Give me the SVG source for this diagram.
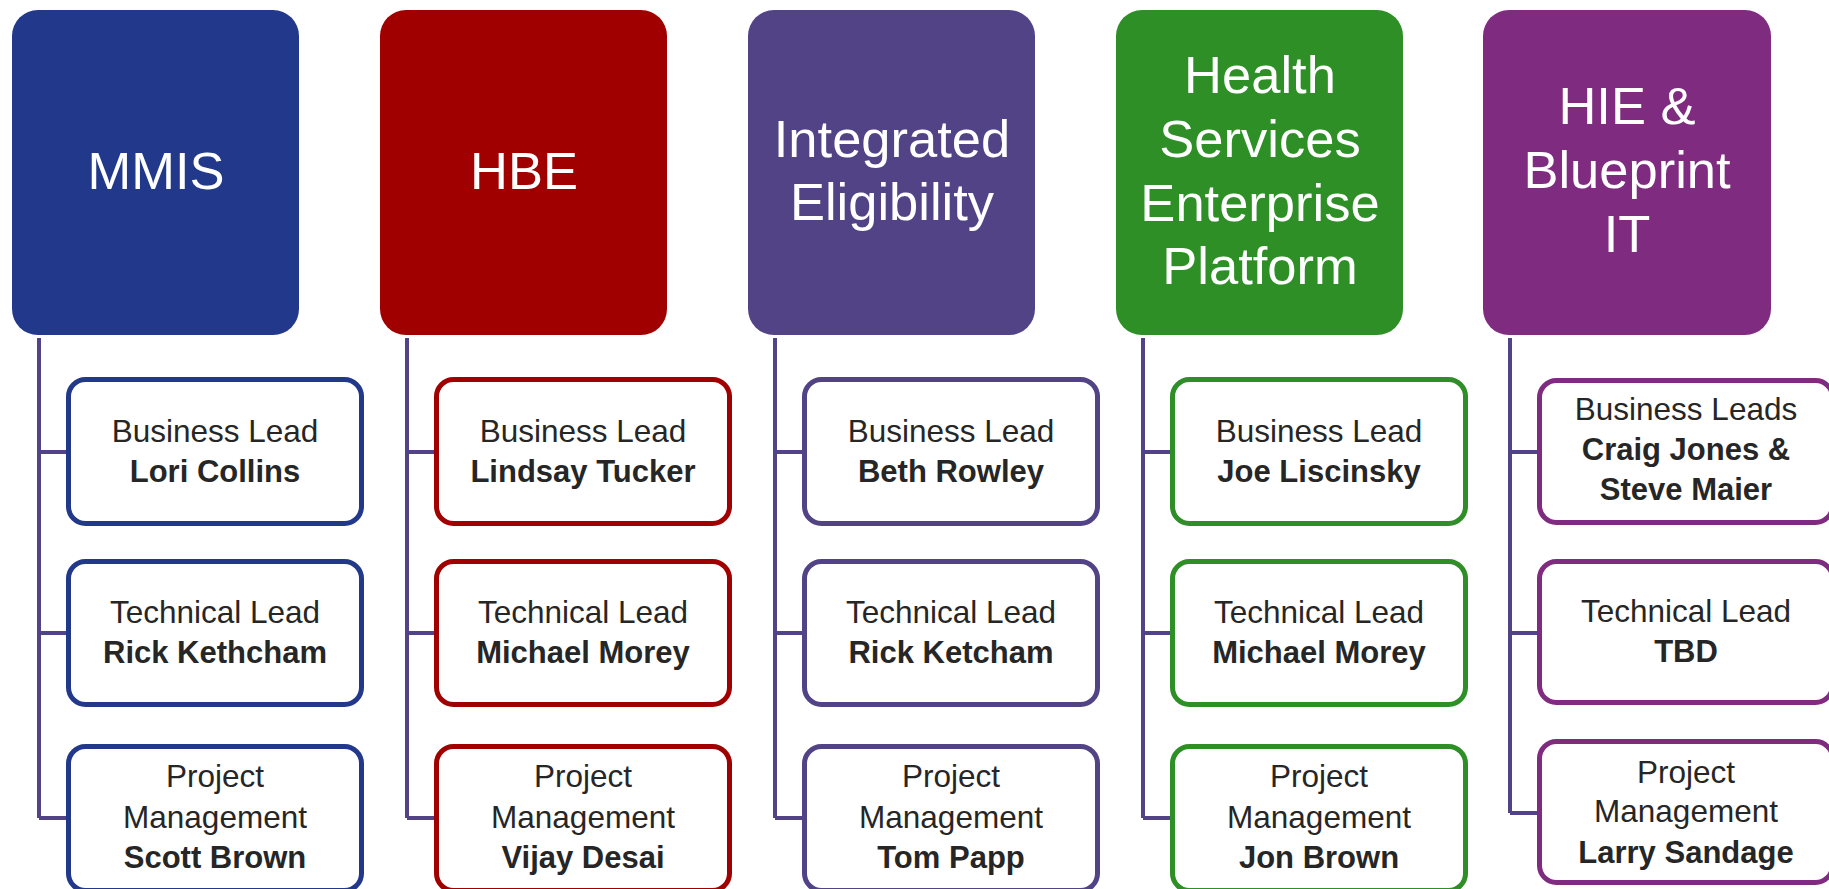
<svg xmlns="http://www.w3.org/2000/svg" width="1829" height="889" viewBox="0 0 1829 889">
<style>
.hdr{stroke:none}
.t{font-family:"Liberation Sans",Arial,sans-serif;fill:#262626;text-anchor:middle;font-size:31.5px}
.b{font-weight:bold;font-size:31px}
.h{font-family:"Liberation Sans",Arial,sans-serif;fill:#ffffff;text-anchor:middle;font-size:52.5px}
.box{fill:#ffffff;stroke-width:5}
.c{stroke:#524389;stroke-width:4;fill:none;stroke-linejoin:miter}
</style>
<rect width="1829" height="889" fill="#ffffff"/>
<g id="connectors">
<path class="c" d="M39 338V818M39 452H68M39 633H68M39 818H68"/>
<path class="c" d="M407 338V818M407 452H436M407 633H436M407 818H436"/>
<path class="c" d="M775 338V818M775 452H804M775 633H804M775 818H804"/>
<path class="c" d="M1143 338V818M1143 452H1172M1143 633H1172M1143 818H1172"/>
<path class="c" d="M1510 338V813M1510 452H1539M1510 633H1539M1510 813H1539"/>
</g>
<g id="mmis">
<rect class="hdr" x="12" y="10" width="287" height="325" rx="26" fill="#22398B"/>
<text class="h" x="156" y="189">MMIS</text>
</g>
<g id="mmis-business"><rect class="box" x="68.5" y="379.5" width="293" height="144" rx="17" stroke="#22398B"/>
<text class="t" x="215" y="442">Business Lead</text><text class="t b" x="215" y="482">Lori Collins</text></g>
<g id="mmis-technical"><rect class="box" x="68.5" y="561.5" width="293" height="143" rx="17" stroke="#22398B"/>
<text class="t" x="215" y="623">Technical Lead</text><text class="t b" x="215" y="663">Rick Kethcham</text></g>
<g id="mmis-project"><rect class="box" x="68.5" y="746.5" width="293" height="144" rx="17" stroke="#22398B"/>
<text class="t" x="215" y="787">Project</text><text class="t" x="215" y="828">Management</text><text class="t b" x="215" y="868">Scott Brown</text></g>

<g id="hbe">
<rect class="hdr" x="380" y="10" width="287" height="325" rx="26" fill="#A10000"/>
<text class="h" x="524" y="189">HBE</text>
</g>
<g id="hbe-business"><rect class="box" x="436.5" y="379.5" width="293" height="144" rx="17" stroke="#A10000"/>
<text class="t" x="583" y="442">Business Lead</text><text class="t b" x="583" y="482">Lindsay Tucker</text></g>
<g id="hbe-technical"><rect class="box" x="436.5" y="561.5" width="293" height="143" rx="17" stroke="#A10000"/>
<text class="t" x="583" y="623">Technical Lead</text><text class="t b" x="583" y="663">Michael Morey</text></g>
<g id="hbe-project"><rect class="box" x="436.5" y="746.5" width="293" height="144" rx="17" stroke="#A10000"/>
<text class="t" x="583" y="787">Project</text><text class="t" x="583" y="828">Management</text><text class="t b" x="583" y="868">Vijay Desai</text></g>

<g id="ie">
<rect class="hdr" x="748" y="10" width="287" height="325" rx="26" fill="#524286"/>
<text class="h" x="892" y="157">Integrated</text>
<text class="h" x="892" y="220">Eligibility</text>
</g>
<g id="ie-business"><rect class="box" x="804.5" y="379.5" width="293" height="144" rx="17" stroke="#524286"/>
<text class="t" x="951" y="442">Business Lead</text><text class="t b" x="951" y="482">Beth Rowley</text></g>
<g id="ie-technical"><rect class="box" x="804.5" y="561.5" width="293" height="143" rx="17" stroke="#524286"/>
<text class="t" x="951" y="623">Technical Lead</text><text class="t b" x="951" y="663">Rick Ketcham</text></g>
<g id="ie-project"><rect class="box" x="804.5" y="746.5" width="293" height="144" rx="17" stroke="#524286"/>
<text class="t" x="951" y="787">Project</text><text class="t" x="951" y="828">Management</text><text class="t b" x="951" y="868">Tom Papp</text></g>

<g id="hsep">
<rect class="hdr" x="1116" y="10" width="287" height="325" rx="26" fill="#2E8F26"/>
<text class="h" x="1260" y="93">Health</text>
<text class="h" x="1260" y="157">Services</text>
<text class="h" x="1260" y="221">Enterprise</text>
<text class="h" x="1260" y="284">Platform</text>
</g>
<g id="hsep-business"><rect class="box" x="1172.5" y="379.5" width="293" height="144" rx="17" stroke="#2E8F26"/>
<text class="t" x="1319" y="442">Business Lead</text><text class="t b" x="1319" y="482">Joe Liscinsky</text></g>
<g id="hsep-technical"><rect class="box" x="1172.5" y="561.5" width="293" height="143" rx="17" stroke="#2E8F26"/>
<text class="t" x="1319" y="623">Technical Lead</text><text class="t b" x="1319" y="663">Michael Morey</text></g>
<g id="hsep-project"><rect class="box" x="1172.5" y="746.5" width="293" height="144" rx="17" stroke="#2E8F26"/>
<text class="t" x="1319" y="787">Project</text><text class="t" x="1319" y="828">Management</text><text class="t b" x="1319" y="868">Jon Brown</text></g>

<g id="hie">
<rect class="hdr" x="1483" y="10" width="288" height="325" rx="26" fill="#7F2B7F"/>
<text class="h" x="1627" y="124">HIE &amp;</text>
<text class="h" x="1627" y="188">Blueprint</text>
<text class="h" x="1627" y="252">IT</text>
</g>
<g id="hie-business"><rect class="box" x="1539.5" y="380.5" width="293" height="142" rx="17" stroke="#7F2B7F"/>
<text class="t" x="1686" y="420">Business Leads</text><text class="t b" x="1686" y="460">Craig Jones &amp;</text><text class="t b" x="1686" y="500">Steve Maier</text></g>
<g id="hie-technical"><rect class="box" x="1539.5" y="561.5" width="293" height="141" rx="17" stroke="#7F2B7F"/>
<text class="t" x="1686" y="622">Technical Lead</text><text class="t b" x="1686" y="662">TBD</text></g>
<g id="hie-project"><rect class="box" x="1539.5" y="741.5" width="293" height="141" rx="17" stroke="#7F2B7F"/>
<text class="t" x="1686" y="783">Project</text><text class="t" x="1686" y="822">Management</text><text class="t b" x="1686" y="863">Larry Sandage</text></g>
</svg>
